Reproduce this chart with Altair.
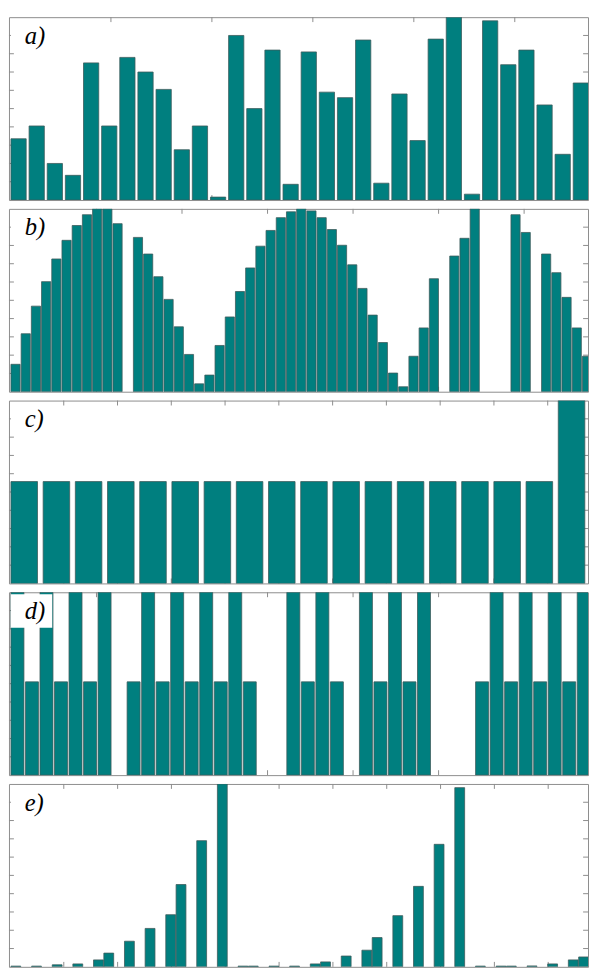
import altair as alt
import pandas as pd

# ---------------- data (values as % of panel height) ----------------
a_slots = list(range(32))
a_values = [33.5, 40.5, 20.0, 13.5, 75.0, 40.5, 78.0, 70.0, 60.5, 27.5, 40.5, 1.6,
            90.0, 50.0, 82.0, 8.6, 81.0, 59.0, 56.0, 87.5, 9.2, 58.0, 32.5, 88.0,
            100.0, 3.2, 98.0, 74.0, 82.0, 52.0, 25.0, 64.0]

b_slots = [0, 1, 2, 3, 4, 5, 6, 7, 8, 9, 10,
           12, 13, 14, 15, 16, 17, 18, 19, 20, 21, 22, 23, 24, 25, 26, 27, 28, 29,
           30, 31, 32, 33, 34, 35, 36, 37, 38, 39, 40, 41,
           43, 44, 45, 49, 50, 52, 53, 54, 55, 56]
b_values = [15.0, 31.7, 46.8, 60.2, 72.6, 82.8, 90.9, 96.8, 100.0, 100.0, 91.9,
            84.4, 75.3, 62.9, 50.5, 35.5, 20.4, 4.3, 9.1, 25.3, 40.9, 54.8, 67.7, 79.6,
            88.2, 95.2, 98.4, 100.0, 98.9, 95.2, 88.7, 80.1, 69.4, 56.5, 41.9, 26.9,
            10.2, 2.7, 19.4, 34.9, 61.8,
            74.2, 83.9, 100.0, 96.8, 87.1, 75.3, 65.1, 51.6, 34.9, 19.4]

c_slots = list(range(18))
c_values = [55.7, 55.7, 55.7, 55.7, 55.7, 55.7, 55.7, 55.7, 55.7,
            55.7, 55.7, 55.7, 55.7, 55.7, 55.7, 55.7, 55.7, 100.0]

d_slots = [0, 1, 2, 3, 4, 5, 6, 8, 9, 10, 11, 12, 13, 14, 15, 16,
           19, 20, 21, 22, 24, 25, 26, 27, 28, 32, 33, 34, 35, 36, 37, 38, 39]
d_values = [100, 51, 100, 51, 100, 51, 100, 51, 100, 51, 100, 51, 100, 51, 100, 51,
            100, 51, 100, 51, 100, 51, 100, 51, 100, 51, 100, 51, 100, 51, 100, 51, 100]

e_slots = [0, 2, 4, 6, 8, 9, 11, 13, 15, 16, 18, 20, 22, 23, 25, 27,
           29, 30, 32, 34, 35, 37, 39, 41, 43, 45, 47, 48, 50, 52, 54, 55]
e_values = [0.4, 0.4, 1.1, 1.6, 3.8, 7.5, 14.0, 21.0, 28.5, 45.0, 69.0, 100.0,
            0.4, 0.4, 0.4, 0.4, 1.6, 2.7, 5.9, 9.1, 16.0, 28.0, 44.0, 67.0, 98.0,
            0.4, 0.4, 0.4, 0.5, 1.6, 3.8, 5.4]

labels = ["a)", "b)", "c)", "d)", "e)"]
y_ticks = [10, 20, 30, 40, 50, 60, 70, 80, 90]

# ---------------- layout ----------------
W = 589
H = 186
SPACING = 7
TL = 5  # tick length
TEAL = "#007f7f"
GRAY = "#8c8c8c"

# pitch (px per slot), bar width (px), tick start (px), tick step (px)
layout = {
    "a)": (18.45, 15.5, 1.0, 102.7),
    "b)": (10.38, 9.3, 2.0, 87.0),
    "c)": (32.75, 27.0, 1.0, 54.7),
    "d)": (14.77, 13.2, 2.0, 87.0),
    "e)": (10.5, 10.0, 1.0, 54.75),
}


def panel(slots, values, label):
    pitch, bar_px, t0, tstep = layout[label]
    first = 2.0
    d0 = -first / pitch
    d1 = d0 + W / pitch
    xt = []
    k = 1
    while t0 + k * tstep < W - 2:
        xt.append(d0 + (t0 + k * tstep) / pitch)
        k += 1
    bw = bar_px / pitch
    df = pd.DataFrame({"slot": slots, "value": values})
    xs = alt.Scale(domain=[d0, d1], nice=False, zero=False)
    ys = alt.Scale(domain=[0, 100], nice=False, zero=True)

    xt_df = pd.DataFrame({"t": xt})
    yt_df = pd.DataFrame({"t": y_ticks})
    tick_style = dict(color=GRAY, strokeWidth=1)
    top_ticks = alt.Chart(xt_df).mark_rule(**tick_style).encode(
        x=alt.X("t:Q", scale=xs, axis=None), y=alt.value(0), y2=alt.value(TL))
    bot_ticks = alt.Chart(xt_df).mark_rule(**tick_style).encode(
        x=alt.X("t:Q", scale=xs, axis=None), y=alt.value(H - TL), y2=alt.value(H))
    left_ticks = alt.Chart(yt_df).mark_rule(**tick_style).encode(
        y=alt.Y("t:Q", scale=ys, axis=None), x=alt.value(0), x2=alt.value(TL))
    right_ticks = alt.Chart(yt_df).mark_rule(**tick_style).encode(
        y=alt.Y("t:Q", scale=ys, axis=None), x=alt.value(W - TL), x2=alt.value(W))

    bars = alt.Chart(df).transform_calculate(
        slot_end=f"datum.slot + {bw}"
    ).mark_bar(color=TEAL, stroke="#3d5c5c", strokeWidth=0.8, clip=True).encode(
        x=alt.X("slot:Q", scale=xs, axis=None),
        x2="slot_end:Q",
        y=alt.Y("value:Q", scale=ys, axis=None),
        y2=alt.datum(0),
    )
    lab_df = pd.DataFrame({"label": [label]})
    box = alt.Chart(lab_df).mark_rect(color="white").encode(
        x=alt.value(2), x2=alt.value(44), y=alt.value(2), y2=alt.value(36)
    )
    txt = alt.Chart(lab_df).mark_text(
        font="Liberation Serif", fontStyle="italic", fontSize=25, color="black",
        align="left", baseline="alphabetic"
    ).encode(x=alt.value(16), y=alt.value(27), text="label:N")
    return alt.layer(top_ticks, bot_ticks, left_ticks, right_ticks, bars, box, txt
                     ).properties(width=W, height=H)


chart = alt.vconcat(
    panel(a_slots, a_values, labels[0]),
    panel(b_slots, b_values, labels[1]),
    panel(c_slots, c_values, labels[2]),
    panel(d_slots, d_values, labels[3]),
    panel(e_slots, e_values, labels[4]),
    spacing=SPACING,
).properties(padding=0, background="white").configure_view(
    stroke=GRAY, strokeWidth=1
)

chart.save("out.html", embed_options={"renderer": "svg", "actions": False})
